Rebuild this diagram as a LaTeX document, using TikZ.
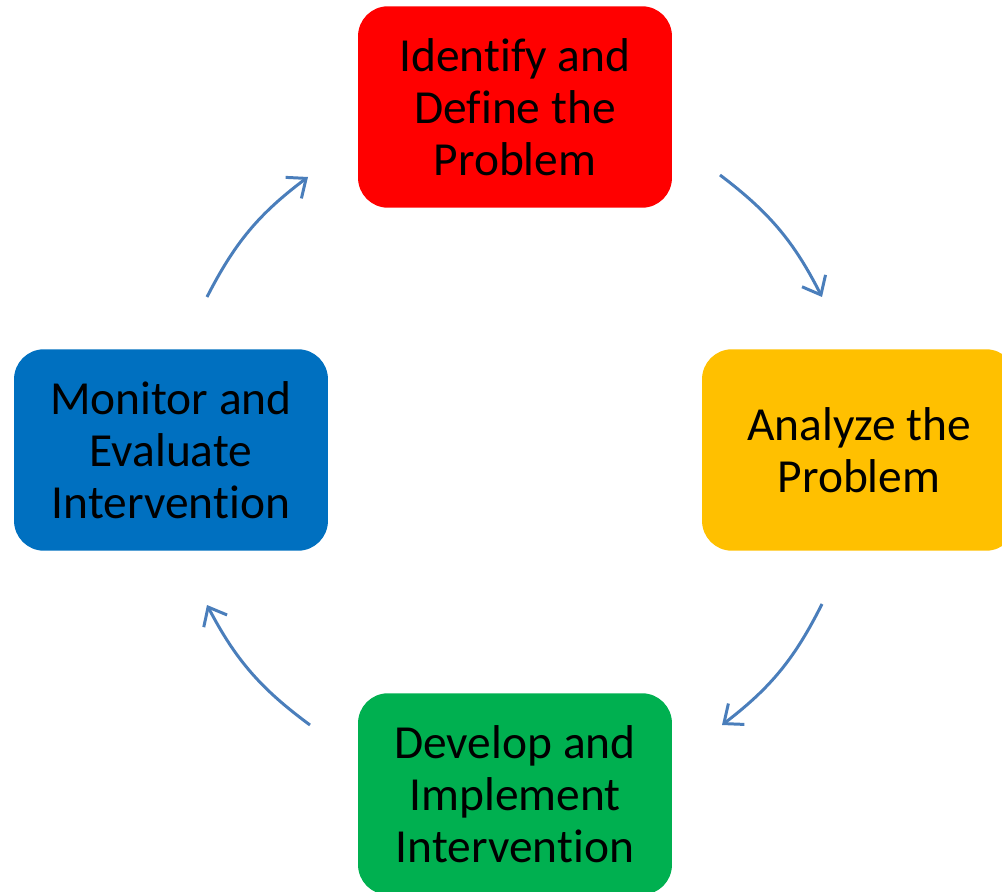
\documentclass[tikz,border=0pt]{standalone}
\usepackage{fontspec}
\setmainfont{Carlito}[Ligatures=NoCommon]
\usetikzlibrary{arrows.meta}
\definecolor{stepred}{HTML}{FF0000}
\definecolor{stepyellow}{HTML}{FFC000}
\definecolor{stepgreen}{HTML}{00B050}
\definecolor{stepblue}{HTML}{0070C0}
\definecolor{cyclearrow}{HTML}{4A7EBB}
\tikzset{
  stepbox/.style={rounded corners=0.6cm, minimum width=6.28cm, minimum height=4.03cm,
    align=center, inner sep=0pt, font=\fontsize{27}{29.6}\selectfont},
  cycle/.style={draw=cyclearrow, line width=1.7pt, -{Straight Barb[length=9pt, width=15pt, line width=1.7pt]}}
}
\begin{document}
\begin{tikzpicture}[x=0.02cm, y=-0.02cm]
\clip (0,0) rectangle (1002,892);
\node[stepbox, fill=stepred] (identify) at (515,107) {Identify and\\Define the\\Problem};
\node[stepbox, fill=stepyellow] (analyze) at (859,450) {Analyze the\\Problem};
\node[stepbox, fill=stepgreen] (develop) at (515,794) {Develop and\\Implement\\Intervention};
\node[stepbox, fill=stepblue] (monitor) at (171,450) {Monitor and\\Evaluate\\Intervention};
% arrows on a circle round the middle
\coordinate (a1) at (720,175);
\coordinate (a2) at (822,297);
\coordinate (b1) at (822,604);
\coordinate (b2) at (722,725);
\coordinate (c1) at (310,725);
\coordinate (c2) at (207,605);
\coordinate (d1) at (207,297);
\coordinate (d2) at (308,177);
\draw[cycle] (a1) to[bend left=13] (a2);
\draw[cycle] (b1) to[bend left=13] (b2);
\draw[cycle] (c1) to[bend left=13] (c2);
\draw[cycle] (d1) to[bend left=13] (d2);
\end{tikzpicture}
\end{document}
